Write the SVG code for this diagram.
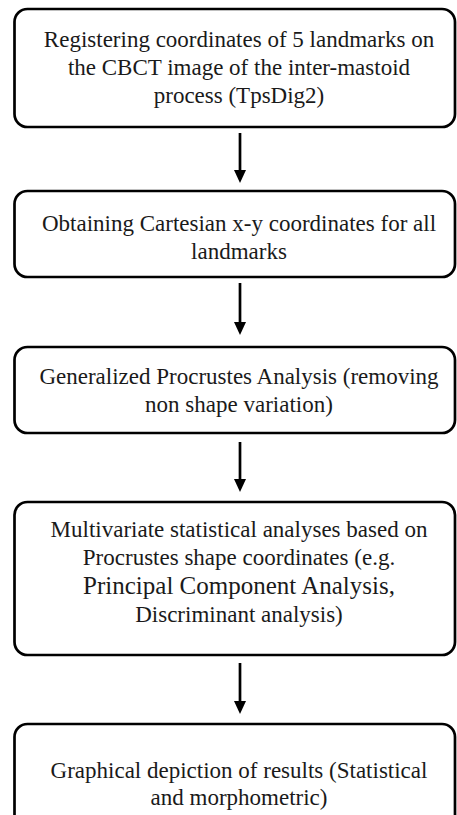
<svg xmlns="http://www.w3.org/2000/svg" width="457" height="815" viewBox="0 0 457 815">
<defs>
<style>
.box{fill:#fff;stroke:#000;stroke-width:2.7}
.t{font-family:"Liberation Serif","Times New Roman",serif;font-size:23px;fill:#1a1a1a;text-anchor:middle}
.big{font-size:25px}
.c{stroke:#000;stroke-width:2.7;fill:none}
</style>
<marker id="ah" viewBox="0 0 13 12" refX="3" refY="6" markerWidth="13" markerHeight="12" orient="auto" markerUnits="userSpaceOnUse">
<path d="M0,0 L13,6 L0,12 z" fill="#000"/>
</marker>
</defs>
<rect width="457" height="815" fill="#fff"/>
<g id="n1"><rect class="box" x="14.5" y="9" width="440.5" height="118" rx="13"/>
<text class="t" x="239" y="47">Registering coordinates of 5 landmarks on</text>
<text class="t" x="239" y="75">the CBCT image of the inter-mastoid</text>
<text class="t" x="239" y="103">process (TpsDig2)</text></g>
<g id="n2"><rect class="box" x="14.5" y="191" width="440.5" height="86" rx="13"/>
<text class="t" x="239" y="231">Obtaining Cartesian x-y coordinates for all</text>
<text class="t" x="239" y="259">landmarks</text></g>
<g id="n3"><rect class="box" x="14.5" y="347" width="440.5" height="86" rx="13"/>
<text class="t" x="239" y="384">Generalized Procrustes Analysis (removing</text>
<text class="t" x="239" y="412">non shape variation)</text></g>
<g id="n4"><rect class="box" x="14.5" y="502" width="440.5" height="153" rx="13"/>
<text class="t" x="239" y="537">Multivariate statistical analyses based on</text>
<text class="t" x="239" y="565">Procrustes shape coordinates (e.g.</text>
<text class="t big" x="239" y="594">Principal Component Analysis,</text>
<text class="t" x="239" y="622">Discriminant analysis)</text></g>
<g id="n5"><rect class="box" x="14.5" y="724" width="440.5" height="110" rx="13"/>
<text class="t" x="239" y="778">Graphical depiction of results (Statistical</text>
<text class="t" x="239" y="805">and morphometric)</text></g>
<g id="connectors">
<line class="c" x1="240" y1="133" x2="240" y2="173" marker-end="url(#ah)"/>
<line class="c" x1="240" y1="283" x2="240" y2="325" marker-end="url(#ah)"/>
<line class="c" x1="240" y1="442" x2="240" y2="482" marker-end="url(#ah)"/>
<line class="c" x1="240" y1="663" x2="240" y2="704" marker-end="url(#ah)"/>
</g>
</svg>
